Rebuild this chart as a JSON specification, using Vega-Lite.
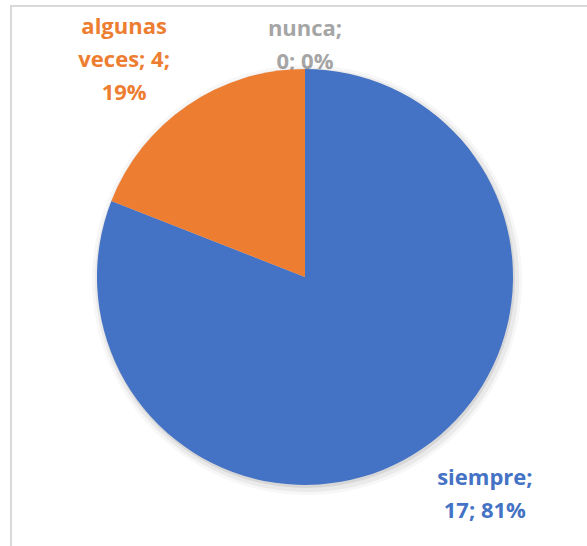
{
  "$schema": "https://vega.github.io/schema/vega-lite/v6.json",
  "width": 588,
  "height": 542,
  "autosize": {"type": "none"},
  "padding": {"left": 11, "top": 6, "right": -12, "bottom": -2},
  "background": "white",
  "view": {"stroke": "#d9d9d9", "strokeWidth": 2},
  "config": {"view": {"stroke": "#d9d9d9", "strokeWidth": 2}},
  "data": {
    "values": [
      {"cat": "siempre", "n": 17, "i": 1, "label": "siempre;\n17; 81%"},
      {"cat": "algunas veces", "n": 4, "i": 2, "label": "algunas\nveces; 4;\n19%"},
      {"cat": "nunca", "n": 0, "i": 3, "label": "nunca;\n0; 0%"}
    ]
  },
  "transform": [
    {"stack": "n", "groupby": [], "sort": [{"field": "i"}], "as": ["t0", "t1"]},
    {"calculate": "(datum.t0 + datum.t1) / 2", "as": "mid"}
  ],
  "encoding": {
    "color": {
      "field": "cat",
      "type": "nominal",
      "scale": {"domain": ["siempre", "algunas veces", "nunca"], "range": ["#4472C4", "#ED7D31", "#A5A5A5"]},
      "legend": null
    }
  },
  "layer": [
    {
      "transform": [{"filter": "datum.cat == 'nunca'"}],
      "mark": {"type": "text", "radius": 232, "dy": -16, "align": "center", "baseline": "middle", "lineBreak": "\n", "lineHeight": 33, "font": "Open Sans", "fontSize": 22, "fontWeight": "bold"},
      "encoding": {
        "theta": {"field": "mid", "type": "quantitative", "stack": null, "scale": {"domain": [0, 21]}},
        "text": {"field": "label"}
      }
    },
    {
      "mark": {"type": "arc", "outerRadius": 215, "xOffset": 2, "yOffset": 3, "opacity": 0.03},
      "encoding": {
        "theta": {"field": "t0", "type": "quantitative", "stack": null},
        "theta2": {"field": "t1"},
        "color": {"value": "#000000"}
      }
    },
    {
      "mark": {"type": "arc", "outerRadius": 212, "xOffset": 2, "yOffset": 3, "opacity": 0.05},
      "encoding": {
        "theta": {"field": "t0", "type": "quantitative", "stack": null},
        "theta2": {"field": "t1"},
        "color": {"value": "#000000"}
      }
    },
    {
      "mark": {"type": "arc", "outerRadius": 209, "xOffset": 1, "yOffset": 2, "opacity": 0.08},
      "encoding": {
        "theta": {"field": "t0", "type": "quantitative", "stack": null},
        "theta2": {"field": "t1"},
        "color": {"value": "#000000"}
      }
    },
    {
      "mark": {"type": "arc", "outerRadius": 208},
      "encoding": {
        "theta": {"field": "t0", "type": "quantitative", "stack": null},
        "theta2": {"field": "t1"}
      }
    },
    {
      "transform": [{"filter": "datum.cat == 'siempre'"}],
      "mark": {"type": "text", "radius": 282, "dx": 21, "dy": -32, "align": "center", "baseline": "middle", "lineBreak": "\n", "lineHeight": 33, "font": "Open Sans", "fontSize": 22, "fontWeight": "bold"},
      "encoding": {
        "theta": {"field": "mid", "type": "quantitative", "stack": null},
        "text": {"field": "label"}
      }
    },
    {
      "transform": [{"filter": "datum.cat == 'algunas veces'"}],
      "mark": {"type": "text", "radius": 282, "dx": -22, "dy": -17, "align": "center", "baseline": "middle", "lineBreak": "\n", "lineHeight": 33, "font": "Open Sans", "fontSize": 22, "fontWeight": "bold"},
      "encoding": {
        "theta": {"field": "mid", "type": "quantitative", "stack": null},
        "text": {"field": "label"}
      }
    }
  ]
}
